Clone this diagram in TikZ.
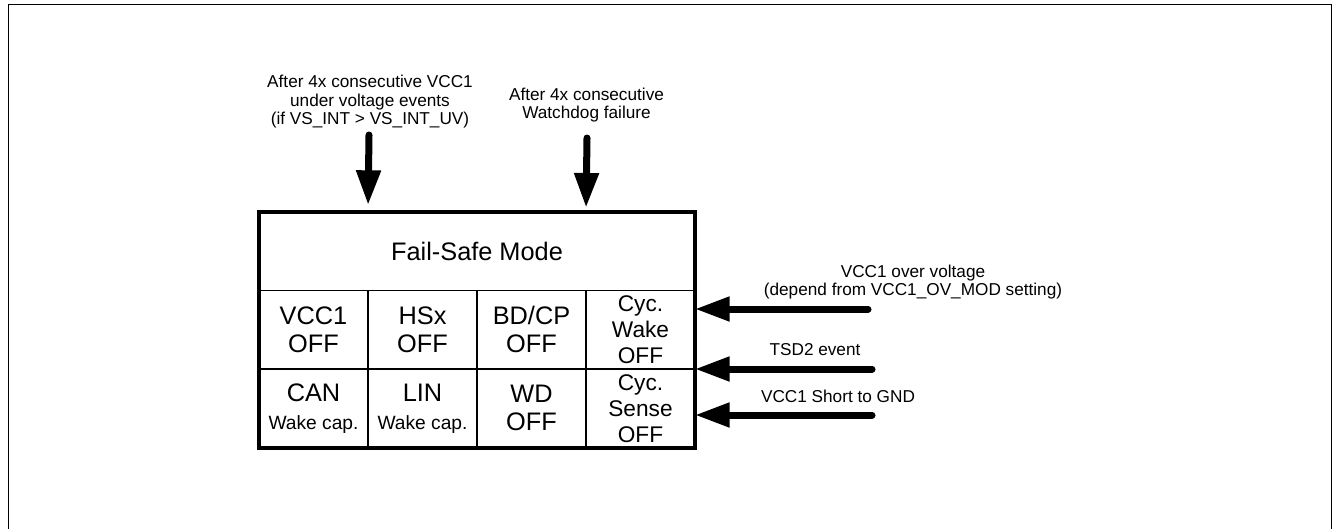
\documentclass[tikz,border=0pt]{standalone}
\usepackage{fontspec}
\setmainfont{Liberation Sans}
\usetikzlibrary{arrows.meta,positioning}

\tikzset{
    cell/.style={draw,line width=1.1pt,outer sep=0pt,inner sep=0pt,minimum width=81.75pt,minimum height=59pt,align=center,font=\fontsize{19}{21}\selectfont},
    evt/.style={align=center,inner sep=0pt,font=\fontsize{12.9}{13.9}\selectfont},
    fatarrow/.style={line width=5.25pt,line cap=round,-{Triangle[length=26pt,width=17.5pt]}}
}

\begin{document}
\begin{tikzpicture}[x=0.75pt,y=-0.75pt]
            \useasboundingbox (0,0) rectangle (1333,528);
            \draw[line width=0.75pt] (8,5) rectangle (1331,545);
            \node[cell,minimum width=327pt] (fsm) at (477,251) {Fail-Safe Mode};
            \node[cell,below right=0pt of fsm.south west] (c11) {VCC1\\OFF};
            \node[cell,right=0pt of c11] (c12) {HSx\\OFF};
            \node[cell,right=0pt of c12] (c13) {BD/CP\\OFF};
            \node[cell,right=0pt of c13,font=\fontsize{17}{19.5}\selectfont] (c14) {Cyc.\\Wake\\OFF};
            \node[cell,below=0pt of c11] (c21) {CAN\\{\fontsize{14.4}{17}\selectfont Wake cap.}};
            \node[cell,below=0pt of c12] (c22) {LIN\\{\fontsize{14.4}{17}\selectfont Wake cap.}};
            \node[cell,below=0pt of c13] (c23) {WD\\OFF};
            \node[cell,below=0pt of c14,font=\fontsize{17}{19.5}\selectfont] (c24) {Cyc.\\Sense\\OFF};
            \draw[line width=3pt] (fsm.north west) rectangle (c24.south east);

            \node[evt] (uvtxt) at (370,102) {After 4x consecutive VCC1\\under voltage events\\(if VS\_INT > VS\_INT\_UV)};
            \node[evt] (wdtxt) at (586.5,105) {After 4x consecutive\\Watchdog failure};
            \node[evt] (ovtxt) at (913,282) {VCC1 over voltage\\(depend from VCC1\_OV\_MOD setting)};
            \node[evt] (tsdtxt) at (815,350) {TSD2 event};
            \node[evt] (scgtxt) at (838,396) {VCC1 Short to GND};

            \coordinate (uv) at (369,135);
            \coordinate (wd) at (587,138);
            \coordinate (ov) at (868,309);
            \coordinate (tsd) at (872,369);
            \coordinate (scg) at (872,415);
            \draw[fatarrow,shorten >=5pt] (uv) -- (c11.east |- fsm.north);
            \draw[fatarrow,shorten >=3pt] (wd) -- (c13.east |- fsm.north);
            \draw[fatarrow] (ov) -- (c14.east |- ov);
            \draw[fatarrow] (tsd) -- (c14.east |- tsd);
            \draw[fatarrow] (scg) -- (c24.east |- scg);
    \end{tikzpicture}
\end{document}
